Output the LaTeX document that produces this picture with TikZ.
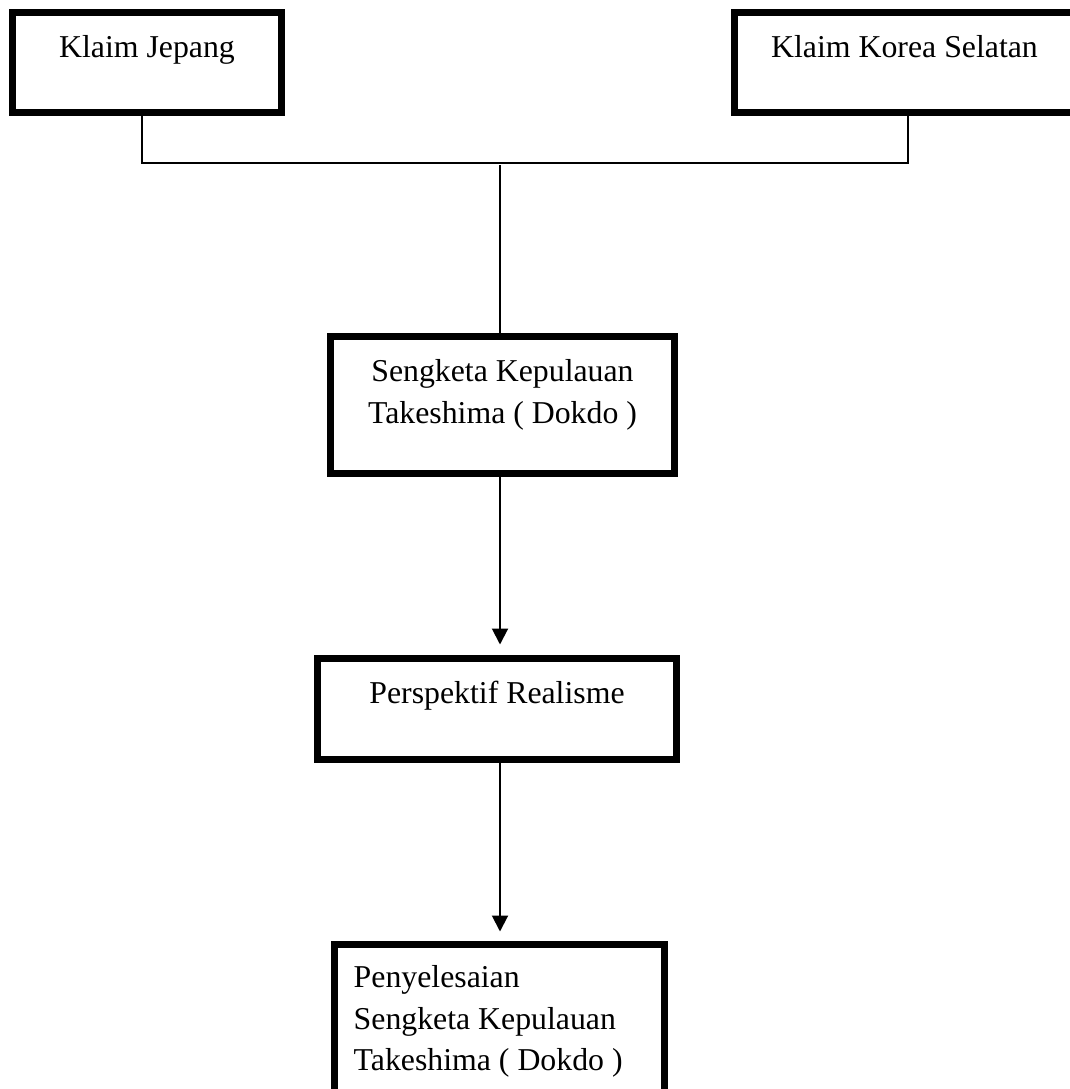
\documentclass[tikz,border=0pt]{standalone}
\usepackage{fontspec}
\setmainfont{Liberation Serif}
\usetikzlibrary{calc, positioning, arrows.meta}

\begin{document}
\begin{tikzpicture}
  [x=1pt, y=-1pt,
   box/.style={draw, rectangle, line width=7pt, inner sep=0pt},
   lbl/.style={font=\fontsize{31.8}{41.5}\selectfont, inner sep=0pt},
   link/.style={line width=2pt},
   flow/.style={line width=2pt, -{Triangle[width=16pt, length=16pt]}}]
  \useasboundingbox (0,0) rectangle (1070,1089);
  % nodes %
  \node[box, minimum width=269pt, minimum height=100pt] (jp) at (147,62.5) {};
  \node[box, minimum width=340pt, minimum height=100pt] (kr) at (904.5,62.5) {};
  \node[box, minimum width=344pt, minimum height=137pt] (sk) at (502.5,405) {};
  \node[box, minimum width=359pt, minimum height=101pt] (pr) at (497,709) {};
  \node[box, minimum width=330pt, minimum height=180pt] (ps) at (499.5,1034.5) {};

  \node[lbl, below=49pt of jp.north, anchor=base] (jpt) {Klaim Jepang};
  \node[lbl, below=49pt of kr.north, anchor=base] (krt) {Klaim Korea Selatan};
  \node[lbl, align=center, below=90pt of sk.north, anchor=base] (skt)
    {Sengketa Kepulauan\\Takeshima ( Dokdo )};
  \node[lbl, below=48pt of pr.north, anchor=base] (prt) {Perspektif Realisme};
  \node[lbl, align=left, below right=129.5pt and 22.5pt of ps.north west, anchor=base west] (pst)
    {Penyelesaian\\Sengketa Kepulauan\\Takeshima ( Dokdo )};

  \coordinate (jn) at ([xshift=-5pt]jp.south |- 0,163);
  \coordinate (kn) at ([xshift=3.5pt]kr.south |- 0,163);
  \coordinate (mid) at (500,165);

  % edges %
  \draw[link] ([xshift=-5pt]jp.south) -- (jn) -- (kn) -- ([xshift=3.5pt]kr.south);
  \draw[link] (mid) -- (mid |- sk.north);
  \draw[flow, shorten >=10.5pt] (mid |- sk.south) -- (mid |- pr.north);
  \draw[flow, shorten >=9.5pt] (mid |- pr.south) -- (mid |- ps.north);
\end{tikzpicture}
\end{document}
